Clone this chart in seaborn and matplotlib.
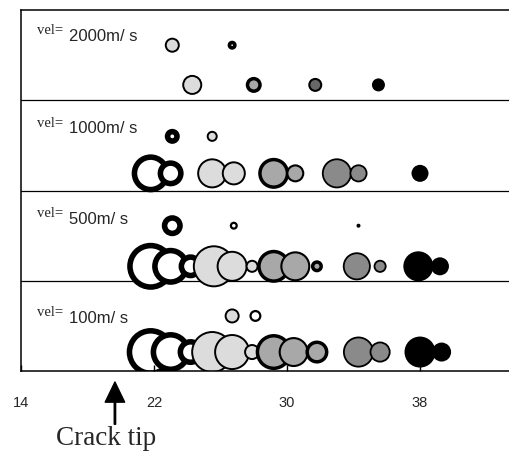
import numpy as np
import pandas as pd
import matplotlib
matplotlib.use("Agg")
import matplotlib.pyplot as plt
import seaborn as sns

# ---------------- data ----------------
panels = ["2000", "1000", "500", "100"]
panel_base = [3, 2, 1, 0]
row_upper = [0.61, 0.60, 0.61, 0.61]
row_lower = [0.17, 0.19, 0.16, 0.21]

x_2000 = [23.1, 26.7, 24.3, 28.0, 31.7, 35.5]
d_2000 = [15, 9, 20, 16, 14, 13]
k_2000 = ["light", "dot", "light", "midbold", "deep", "black"]
r_2000 = ["u", "u", "l", "l", "l", "l"]

x_1000 = [23.1, 25.5, 21.8, 23.0, 25.5, 26.8, 29.2, 30.5, 33.0, 34.3, 38.0]
d_1000 = [15, 11, 38, 26, 30, 24, 31, 18, 30, 18, 17]
k_1000 = ["ring", "light", "ring", "ring", "light", "light", "midbold", "mid",
          "dark", "dark", "black"]
r_1000 = ["u", "u", "l", "l", "l", "l", "l", "l", "l", "l", "l"]

x_500 = [23.1, 26.8, 34.3, 21.8, 23.0, 24.2, 25.6, 26.7, 27.9, 29.2, 30.5,
         31.8, 34.2, 35.6, 37.9, 39.2]
d_500 = [21, 8, 4, 47, 37, 24, 42, 31, 13, 33, 30, 12, 28, 13, 30, 18]
k_500 = ["ring", "hollow", "black", "ring", "ring", "ring", "light", "light",
         "light", "midbold", "mid", "midbold", "dark", "dark", "black", "black"]
r_500 = ["u", "u", "u", "l", "l", "l", "l", "l", "l", "l", "l", "l", "l", "l",
         "l", "l"]

x_100 = [26.7, 28.1, 21.8, 23.0, 24.2, 25.5, 26.7, 27.9, 29.2, 30.4, 31.8,
         34.3, 35.6, 38.0, 39.3]
d_100 = [15, 12, 48, 40, 26, 42, 36, 16, 36, 30, 23, 31, 21, 31, 19]
k_100 = ["light", "hollow", "ring", "ring", "ring", "light", "light", "light",
         "midbold", "mid", "midbold", "dark", "dark", "black", "black"]
r_100 = ["u", "u", "l", "l", "l", "l", "l", "l", "l", "l", "l", "l", "l", "l",
         "l"]

xticks = [14, 22, 30, 38]
crack_tip_x = 19.65

# ---------------- styles ----------------
kind_color = {"ring": "#ffffff", "dot": "#ffffff", "hollow": "#ffffff",
              "light": "#dcdcdc", "mid": "#a8a8a8", "midbold": "#a8a8a8",
              "dark": "#8a8a8a", "deep": "#676767", "black": "#000000"}
kind_lw = {"ring": 4.0, "dot": 2.6, "hollow": 1.6, "light": 1.4, "mid": 1.5,
           "midbold": 2.5, "dark": 1.3, "deep": 1.5, "black": 0.0}

rows = []
for i, (xs, ds, ks, rs) in enumerate([(x_2000, d_2000, k_2000, r_2000),
                                       (x_1000, d_1000, k_1000, r_1000),
                                       (x_500, d_500, k_500, r_500),
                                       (x_100, d_100, k_100, r_100)]):
    for x, d, k, r in zip(xs, ds, ks, rs):
        y = panel_base[i] + (row_upper[i] if r == "u" else row_lower[i])
        rows.append(dict(panel=panels[i], x=x, y=y, d=d, kind=k))
df = pd.DataFrame(rows).sort_values(["panel", "x"], kind="stable").reset_index(drop=True)
df["lw"] = df["kind"].map(kind_lw)
df["s"] = np.clip(0.72 * df["d"] - df["lw"], 0.8, None) ** 2

sns.set_style("white")
plt.rcParams["font.family"] = ["Liberation Sans", "DejaVu Sans"]

fig = plt.figure(figsize=(5.09, 4.52), dpi=100)
ax = fig.add_axes([21 / 509, 80 / 452, 1 - 21 / 509, 361 / 452])

sns.scatterplot(data=df, x="x", y="y", hue="kind", palette=kind_color,
                s=df["s"].values, linewidth=df["lw"].values, edgecolor="black",
                legend=False, ax=ax, zorder=2)

ax.set_xlim(14, 14 + 488 / 16.625)
ax.set_ylim(0, 4)
for yb in [1, 2, 3]:
    ax.axhline(yb, color="black", lw=0.9, zorder=1)

ax.set_xticks(xticks)
ax.set_xticklabels([str(t) for t in xticks])
ax.set_yticks([])
ax.set_xlabel("")
ax.set_ylabel("")
ax.tick_params(axis="x", direction="in", length=4, width=1, color="black",
               labelsize=10.5, pad=17.5, bottom=True)
ax.set_axisbelow(False)
for side in ["left", "top", "bottom"]:
    ax.spines[side].set_color("black")
    ax.spines[side].set_linewidth(1.1)
ax.spines["right"].set_visible(False)

# panel labels
vel_base = [3.745, 2.71, 1.72, 0.62]
num_base = [3.67, 2.65, 1.64, 0.54]
for i, p in enumerate(panels):
    ax.text(14.95, vel_base[i], "vel=", family="Liberation Serif", fontsize=10.5,
            va="baseline", ha="left")
    ax.text(16.9, num_base[i], p + "m/ s", fontsize=12, va="baseline", ha="left")

# crack tip arrow
ax.annotate("", xy=(crack_tip_x, -0.122), xytext=(crack_tip_x, -0.59),
            xycoords="data", textcoords="data", annotation_clip=False,
            arrowprops=dict(width=1.0, headwidth=14, headlength=14.5,
                            facecolor="black", edgecolor="black", shrink=0))
ax.text(19.1, -0.81, "Crack tip", family="Liberation Serif", fontsize=19.5,
        ha="center", va="baseline", clip_on=False)

fig.savefig("out.png", dpi=100)
